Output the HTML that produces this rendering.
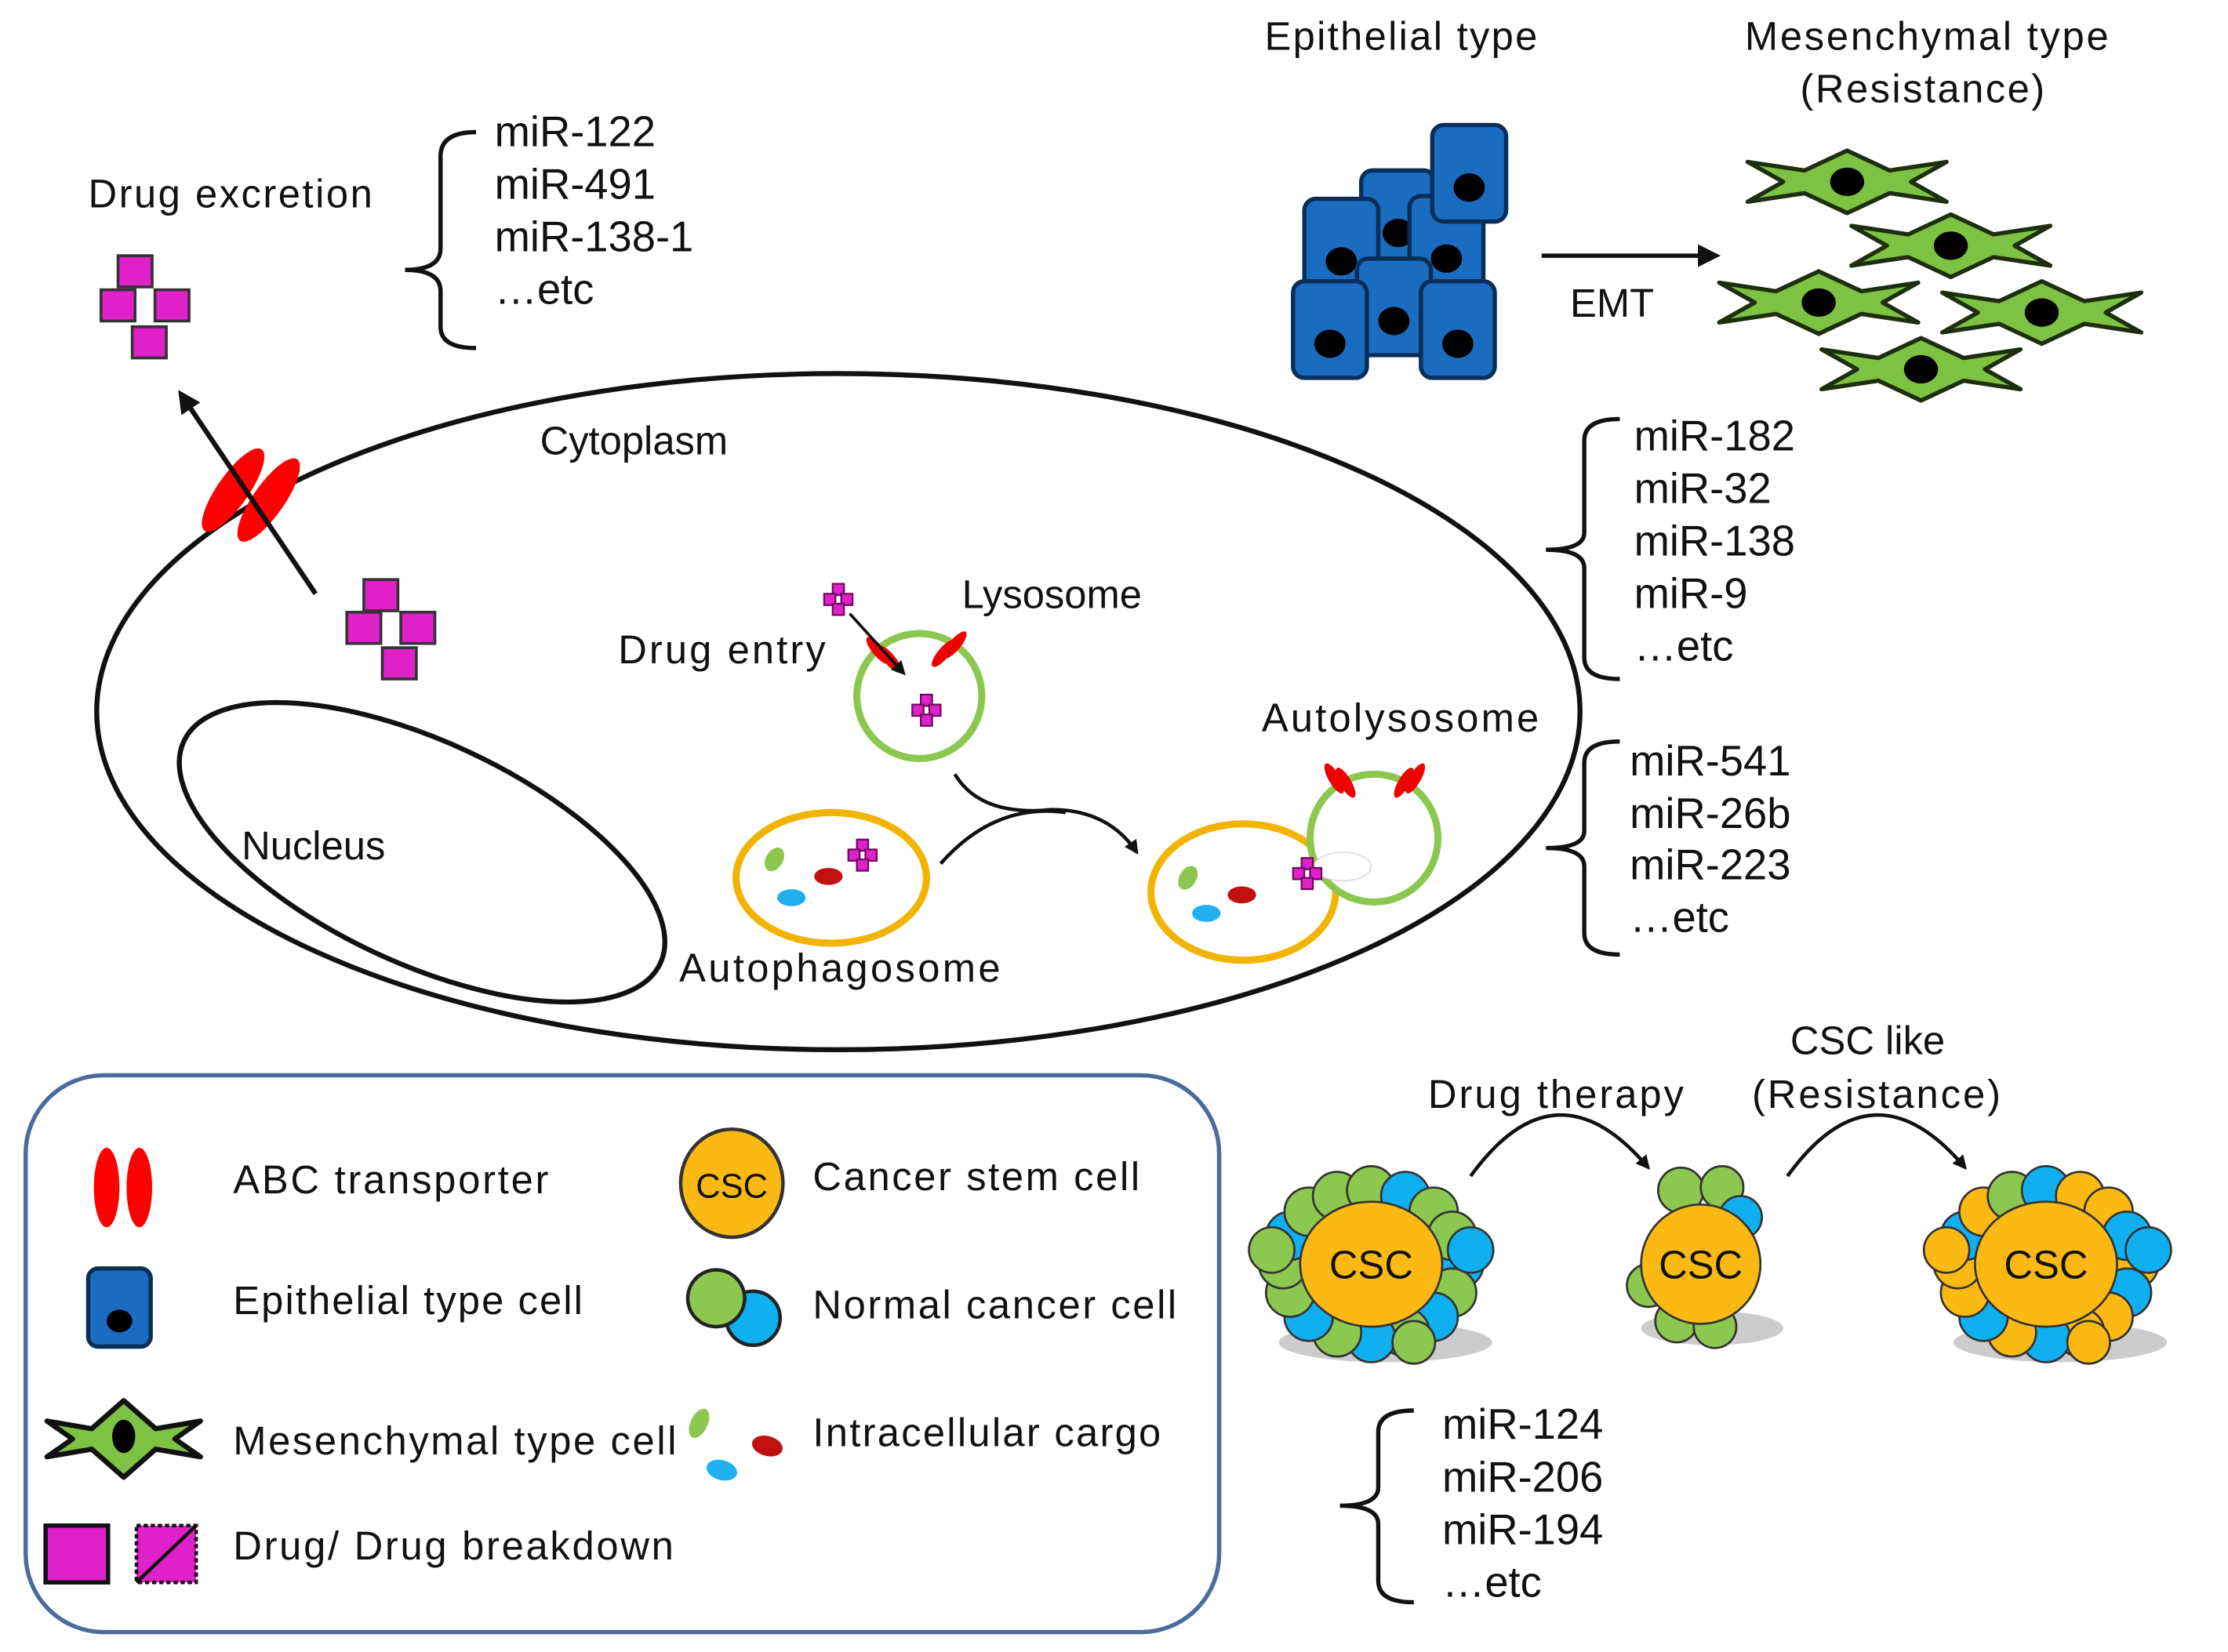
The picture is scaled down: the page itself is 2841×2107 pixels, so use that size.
<!DOCTYPE html>
<html><head><meta charset="utf-8"><style>
html,body{margin:0;padding:0;background:#fff}
svg{display:block}
text{font-family:"Liberation Sans",sans-serif;fill:#111}
</style></head><body>
<svg width="2841" height="2107" viewBox="0 0 1568 1163" xmlns="http://www.w3.org/2000/svg">
<defs>
<marker id="ah" markerWidth="10" markerHeight="10" refX="8" refY="5" orient="auto" markerUnits="userSpaceOnUse"><path d="M0,0 L10,5 L0,10 Z" fill="#111"/></marker>
<marker id="ah2" markerWidth="16" markerHeight="16" refX="13" refY="8" orient="auto" markerUnits="userSpaceOnUse"><path d="M0,0 L16,8 L0,16 Z" fill="#111"/></marker>
<g id="mes"><polygon points="-70,-14 -30,-8 0,-22 30,-8 70,-14 45,0 70,14 30,8 0,22 -30,8 -70,14 -45,0" fill="#7dc242" stroke="#1e2e10" stroke-width="3" stroke-linejoin="round"/><ellipse cx="0" cy="0" rx="12" ry="10" fill="#000"/></g>
<g id="epi"><rect x="0" y="0" width="52" height="68" rx="8" fill="#1a6cc0" stroke="#0a2e58" stroke-width="3"/><ellipse cx="26" cy="44" rx="11" ry="10" fill="#000"/></g>
<g id="cross"><rect x="-4" y="-11" width="8" height="8" fill="#e020c8" stroke="#6a0a5a" stroke-width="1.2"/><rect x="-10" y="-4" width="8" height="8" fill="#e020c8" stroke="#6a0a5a" stroke-width="1.2"/><rect x="2" y="-4" width="8" height="8" fill="#e020c8" stroke="#6a0a5a" stroke-width="1.2"/><rect x="-4" y="3" width="8" height="8" fill="#e020c8" stroke="#6a0a5a" stroke-width="1.2"/></g>
<g id="drug"><rect x="-12" y="-12" width="24" height="22" fill="#e020c8" stroke="#333" stroke-width="2"/></g>
</defs>

<!-- top-left -->
<text x="62" y="146" font-size="28" textLength="200">Drug excretion</text>
<use href="#drug" x="95" y="192"/><use href="#drug" x="83" y="216"/><use href="#drug" x="121" y="216"/><use href="#drug" x="105" y="242"/>
<path d="M335,93 Q310,93 310,110 L310,175 Q310,190 285,190 Q310,190 310,205 L310,230 Q310,245 335,245" fill="none" stroke="#111" stroke-width="3"/>
<g font-size="30"><text x="348" y="103">miR-122</text><text x="348" y="140">miR-491</text><text x="348" y="177">miR-138-1</text><text x="348" y="214">…etc</text></g>

<!-- top-right -->
<text x="890" y="35" font-size="28" textLength="192">Epithelial type</text>
<text x="1228" y="35" font-size="28" textLength="256">Mesenchymal type</text>
<text x="1267" y="72" font-size="28" textLength="172">(Resistance)</text>
<use href="#epi" x="958" y="120"/><use href="#epi" x="918" y="140"/><use href="#epi" x="992" y="138"/><use href="#epi" x="1008" y="88"/>
<use href="#epi" x="955" y="182"/><use href="#epi" x="910" y="198"/><use href="#epi" x="1000" y="198"/>
<line x1="1085" y1="180" x2="1208" y2="180" stroke="#111" stroke-width="3" marker-end="url(#ah2)"/>
<text x="1105" y="223" font-size="28">EMT</text>
<use href="#mes" x="1300" y="128"/><use href="#mes" x="1373" y="173"/><use href="#mes" x="1280" y="213"/><use href="#mes" x="1437" y="220"/><use href="#mes" x="1352" y="260"/>

<!-- cell -->
<ellipse cx="590" cy="501" rx="522" ry="238" fill="none" stroke="#111" stroke-width="3.5"/>
<ellipse cx="297" cy="600" rx="185" ry="78" transform="rotate(25 297 600)" fill="none" stroke="#111" stroke-width="3.5"/>
<text x="380" y="320" font-size="28">Cytoplasm</text>
<text x="170" y="605" font-size="28">Nucleus</text>
<text x="435" y="467" font-size="28" textLength="146">Drug entry</text>
<text x="677" y="428" font-size="28">Lysosome</text>
<text x="888" y="515" font-size="28" textLength="195">Autolysosome</text>
<text x="478" y="691" font-size="28" textLength="226">Autophagosome</text>

<ellipse cx="164" cy="345" rx="11" ry="35" transform="rotate(35 164 345)" fill="#f00"/>
<ellipse cx="189" cy="352" rx="11" ry="35" transform="rotate(35 189 352)" fill="#f00"/>
<line x1="222" y1="418" x2="127" y2="277" stroke="#111" stroke-width="3.5" marker-end="url(#ah2)"/>
<use href="#drug" x="268" y="420"/><use href="#drug" x="256" y="443"/><use href="#drug" x="294" y="443"/><use href="#drug" x="281" y="468"/>

<!-- lysosome -->
<circle cx="647" cy="490" r="44" fill="#fff" stroke="#8cc850" stroke-width="5"/>
<ellipse cx="618" cy="458" rx="4" ry="12" transform="rotate(-40 618 458)" fill="#e00"/><ellipse cx="626" cy="464" rx="4" ry="12" transform="rotate(-40 626 464)" fill="#e00"/>
<ellipse cx="664" cy="460" rx="4" ry="12" transform="rotate(40 664 460)" fill="#e00"/><ellipse cx="672" cy="454" rx="4" ry="12" transform="rotate(40 672 454)" fill="#e00"/>
<use href="#cross" x="590" y="422"/>
<line x1="598" y1="432" x2="636" y2="474" stroke="#111" stroke-width="2" marker-end="url(#ah)"/>
<use href="#cross" x="652" y="500"/>
<path d="M672,545 Q690,575 740,570 Q780,570 800,600" fill="none" stroke="#111" stroke-width="2.5" marker-end="url(#ah)"/>
<path d="M662,608 Q700,565 750,572" fill="none" stroke="#111" stroke-width="2.5"/>

<!-- autophagosome -->
<ellipse cx="585" cy="618" rx="67" ry="46" fill="#fff" stroke="#f2b400" stroke-width="5"/>
<ellipse cx="545" cy="605" rx="6" ry="9" transform="rotate(30 545 605)" fill="#8cc850"/>
<ellipse cx="583" cy="617" rx="10" ry="6" fill="#c01010"/>
<ellipse cx="557" cy="632" rx="10" ry="6" fill="#20b0f0"/>
<use href="#cross" x="607" y="602"/>

<!-- autolysosome -->
<ellipse cx="875" cy="628" rx="65" ry="48" fill="#fff" stroke="#f2b400" stroke-width="5"/>
<circle cx="967" cy="590" r="45" fill="#fff" stroke="#8cc850" stroke-width="5"/>
<ellipse cx="945" cy="610" rx="20" ry="10" fill="#fff" stroke="#ddd" stroke-width="1"/>
<ellipse cx="939" cy="548" rx="4" ry="12" transform="rotate(-30 939 548)" fill="#e00"/><ellipse cx="947" cy="551" rx="4" ry="12" transform="rotate(-30 947 551)" fill="#e00"/>
<ellipse cx="988" cy="551" rx="4" ry="12" transform="rotate(30 988 551)" fill="#e00"/><ellipse cx="996" cy="548" rx="4" ry="12" transform="rotate(30 996 548)" fill="#e00"/>
<ellipse cx="836" cy="618" rx="6" ry="9" transform="rotate(30 836 618)" fill="#8cc850"/>
<ellipse cx="874" cy="630" rx="10" ry="6" fill="#c01010"/>
<ellipse cx="849" cy="643" rx="10" ry="6" fill="#20b0f0"/>
<use href="#cross" x="920" y="615"/>

<!-- right lists -->
<path d="M1140,295 Q1115,295 1115,310 L1115,375 Q1115,387 1088,387 Q1115,387 1115,400 L1115,463 Q1115,478 1140,478" fill="none" stroke="#111" stroke-width="3"/>
<g font-size="30"><text x="1150" y="317">miR-182</text><text x="1150" y="354">miR-32</text><text x="1150" y="391">miR-138</text><text x="1150" y="428">miR-9</text><text x="1150" y="465">…etc</text></g>
<path d="M1140,522 Q1115,522 1115,537 L1115,585 Q1115,597 1088,597 Q1115,597 1115,610 L1115,657 Q1115,672 1140,672" fill="none" stroke="#111" stroke-width="3"/>
<g font-size="30"><text x="1147" y="546">miR-541</text><text x="1147" y="583">miR-26b</text><text x="1147" y="619">miR-223</text><text x="1147" y="656">…etc</text></g>

<!-- legend -->
<rect x="18" y="757" width="840" height="392" rx="55" fill="none" stroke="#4a6c9c" stroke-width="3"/>
<ellipse cx="75" cy="836" rx="9" ry="28" fill="#f00"/><ellipse cx="98" cy="836" rx="9" ry="28" fill="#f00"/>
<text x="164" y="840" font-size="28" textLength="222">ABC transporter</text>
<rect x="62" y="893" width="44" height="55" rx="7" fill="#1a6cc0" stroke="#0a2e58" stroke-width="3"/><ellipse cx="84" cy="930" rx="9" ry="8" fill="#000"/>
<text x="164" y="925" font-size="28" textLength="246">Epithelial type cell</text>
<g transform="translate(87 1013) scale(0.9)"><polygon points="-60,-14 -25,-8 0,-30 25,-8 60,-14 40,0 60,14 25,8 0,30 -25,8 -60,14 -40,0" fill="#7dc242" stroke="#111" stroke-width="4" stroke-linejoin="round"/><ellipse cx="0" cy="-2" rx="9" ry="13" fill="#000"/></g>
<text x="164" y="1024" font-size="28" textLength="312">Mesenchymal type cell</text>
<rect x="32" y="1074" width="44" height="40" fill="#e020c8" stroke="#111" stroke-width="3"/>
<rect x="96" y="1074" width="42" height="40" fill="#e020c8" stroke="#111" stroke-width="2.5" stroke-dasharray="3 2"/><line x1="96" y1="1114" x2="138" y2="1074" stroke="#111" stroke-width="2.5"/>
<text x="164" y="1098" font-size="28" textLength="310">Drug/ Drug breakdown</text>
<ellipse cx="515" cy="833" rx="36" ry="38" fill="#fdb913" stroke="#333" stroke-width="2.5"/>
<text x="515" y="843" font-size="24" text-anchor="middle">CSC</text>
<text x="572" y="838" font-size="28" textLength="230">Cancer stem cell</text>
<circle cx="530" cy="928" r="19" fill="#10b0f0" stroke="#222" stroke-width="2.5"/>
<circle cx="504" cy="914" r="20" fill="#8cc850" stroke="#222" stroke-width="2.5"/>
<text x="572" y="928" font-size="28" textLength="256">Normal cancer cell</text>
<ellipse cx="492" cy="1002" rx="6" ry="11" transform="rotate(25 492 1002)" fill="#8cc850"/>
<ellipse cx="540" cy="1018" rx="11" ry="7" transform="rotate(15 540 1018)" fill="#c01010"/>
<ellipse cx="508" cy="1035" rx="11" ry="7" transform="rotate(15 508 1035)" fill="#20b0f0"/>
<text x="572" y="1018" font-size="28" textLength="245">Intracellular cargo</text>

<!-- CSC clusters -->
<text x="1005" y="780" font-size="28" textLength="180">Drug therapy</text>
<text x="1260" y="742" font-size="28">CSC like</text>
<text x="1233" y="780" font-size="28" textLength="175">(Resistance)</text>
<path d="M1035,828 Q1095,745 1160,822" fill="none" stroke="#111" stroke-width="2.5" marker-end="url(#ah)"/>
<path d="M1258,828 Q1318,745 1383,822" fill="none" stroke="#111" stroke-width="2.5" marker-end="url(#ah)"/>
<g stroke="#333" stroke-width="1.5">
<ellipse cx="975" cy="945" rx="75" ry="14" fill="#ccc" stroke="none"/>
<circle cx="1027" cy="890" r="17" fill="#10b0f0"/><circle cx="1022" cy="910" r="17" fill="#8cc850"/><circle cx="1009" cy="927" r="17" fill="#10b0f0"/><circle cx="989" cy="938" r="17" fill="#8cc850"/><circle cx="965" cy="942" r="17" fill="#10b0f0"/><circle cx="941" cy="938" r="17" fill="#8cc850"/><circle cx="921" cy="927" r="17" fill="#10b0f0"/><circle cx="908" cy="910" r="17" fill="#8cc850"/><circle cx="903" cy="890" r="17" fill="#8cc850"/><circle cx="908" cy="870" r="17" fill="#10b0f0"/><circle cx="921" cy="853" r="17" fill="#8cc850"/><circle cx="941" cy="842" r="17" fill="#8cc850"/><circle cx="965" cy="838" r="17" fill="#8cc850"/><circle cx="989" cy="842" r="17" fill="#10b0f0"/><circle cx="1009" cy="853" r="17" fill="#8cc850"/><circle cx="1022" cy="870" r="17" fill="#8cc850"/>
<circle cx="895" cy="880" r="16" fill="#8cc850"/><circle cx="1035" cy="880" r="16" fill="#10b0f0"/><circle cx="995" cy="945" r="15" fill="#8cc850"/>
<ellipse cx="965" cy="890" rx="50" ry="44" fill="#fdb913"/>
</g>
<text x="965" y="900" font-size="28" text-anchor="middle">CSC</text>

<g stroke="#333" stroke-width="1.5">
<ellipse cx="1205" cy="935" rx="50" ry="12" fill="#ccc" stroke="none"/>
<circle cx="1183" cy="838" r="16" fill="#8cc850"/><circle cx="1212" cy="836" r="15" fill="#8cc850"/><circle cx="1225" cy="857" r="15" fill="#10b0f0"/><circle cx="1160" cy="905" r="15" fill="#8cc850"/><circle cx="1180" cy="930" r="15" fill="#8cc850"/><circle cx="1207" cy="934" r="15" fill="#8cc850"/>
<circle cx="1197" cy="890" r="42" fill="#fdb913"/>
</g>
<text x="1197" y="900" font-size="28" text-anchor="middle">CSC</text>

<g stroke="#333" stroke-width="1.5">
<ellipse cx="1450" cy="945" rx="75" ry="14" fill="#ccc" stroke="none"/>
<circle cx="1502" cy="890" r="17" fill="#fdb913"/><circle cx="1497" cy="910" r="17" fill="#10b0f0"/><circle cx="1484" cy="927" r="17" fill="#fdb913"/><circle cx="1464" cy="938" r="17" fill="#fdb913"/><circle cx="1440" cy="942" r="17" fill="#10b0f0"/><circle cx="1416" cy="938" r="17" fill="#fdb913"/><circle cx="1396" cy="927" r="17" fill="#10b0f0"/><circle cx="1383" cy="910" r="17" fill="#fdb913"/><circle cx="1378" cy="890" r="17" fill="#fdb913"/><circle cx="1383" cy="870" r="17" fill="#10b0f0"/><circle cx="1396" cy="853" r="17" fill="#fdb913"/><circle cx="1416" cy="842" r="17" fill="#8cc850"/><circle cx="1440" cy="838" r="17" fill="#10b0f0"/><circle cx="1464" cy="842" r="17" fill="#fdb913"/><circle cx="1484" cy="853" r="17" fill="#fdb913"/><circle cx="1497" cy="870" r="17" fill="#10b0f0"/>
<circle cx="1370" cy="880" r="16" fill="#fdb913"/><circle cx="1512" cy="880" r="16" fill="#10b0f0"/><circle cx="1470" cy="945" r="15" fill="#fdb913"/>
<ellipse cx="1440" cy="890" rx="50" ry="44" fill="#fdb913"/>
</g>
<text x="1440" y="900" font-size="28" text-anchor="middle">CSC</text>

<path d="M995,993 Q970,993 970,1008 L970,1047 Q970,1060 943,1060 Q970,1060 970,1073 L970,1113 Q970,1128 995,1128" fill="none" stroke="#111" stroke-width="3"/>
<g font-size="30"><text x="1015" y="1013">miR-124</text><text x="1015" y="1050">miR-206</text><text x="1015" y="1087">miR-194</text><text x="1015" y="1124">…etc</text></g>
</svg>
</body></html>
